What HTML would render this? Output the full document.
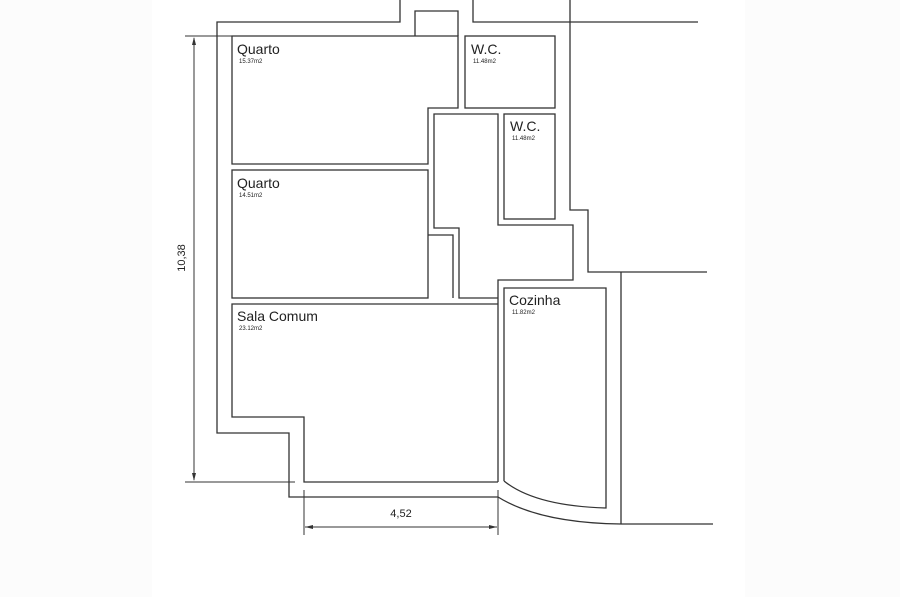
<!DOCTYPE html>
<html><head><meta charset="utf-8"><style>
html,body{margin:0;padding:0;background:#fff;width:900px;height:597px;overflow:hidden}
svg{display:block}
text{font-family:"Liberation Sans",Arial,sans-serif;fill:#222}
.l{font-size:14px}.s{font-size:6px}
</style></head><body>
<svg width="900" height="597" viewBox="0 0 900 597" xmlns="http://www.w3.org/2000/svg">
<rect x="0" y="0" width="152" height="597" fill="#fcfcfc"/>
<rect x="745" y="0" width="155" height="597" fill="#fcfcfc"/>
<g fill="none" stroke="#333" stroke-width="1.3">
<!-- outer left wall -->
<polyline points="400,0 400,22 217,22 217,433 289,433 289,497 498,497"/>
<!-- top small box -->
<polyline points="415,36 415,11 458,11 458,36"/>
<!-- top right wall -->
<polyline points="473,0 473,22 698,22"/>
<polyline points="570,0 570,210 588,210 588,272 707,272"/>
<line x1="621" y1="272" x2="621" y2="524"/>
<path d="M498,497 Q540,523 621,524 L713,524"/>
<!-- Quarto 1 -->
<polygon points="232,36 458,36 458,108 428,108 428,164 232,164"/>
<!-- WC1 -->
<rect x="465" y="36" width="90" height="72"/>
<!-- WC2 -->
<rect x="504" y="114" width="51" height="105"/>
<!-- corridor -->
<polyline points="498,298 459,298 459,228 434,228 434,114 498,114 498,225 573,225 573,280 498,280 498,482"/>
<!-- Quarto 2 -->
<rect x="232" y="170" width="196" height="128"/>
<polyline points="428,235 453,235 453,298"/>
<!-- Sala -->
<polyline points="498,304 232,304 232,417 304,417 304,482 498,482"/>
<!-- Cozinha -->
<path d="M504,481 L504,288 606,288 606,508 Q535,506 504,481"/>
</g>
<g stroke="#333" stroke-width="1" fill="none">
<line x1="185" y1="36" x2="232" y2="36"/>
<line x1="185" y1="482" x2="295" y2="482"/>
<line x1="194" y1="38" x2="194" y2="480"/>
<line x1="304" y1="490" x2="304" y2="535"/>
<line x1="498" y1="490" x2="498" y2="535"/>
<line x1="305" y1="527" x2="497" y2="527"/>
</g>
<g fill="#333">
<polygon points="194,37 192,45 196,45"/>
<polygon points="194,481 192,473 196,473"/>
<polygon points="305,527 313,525 313,529"/>
<polygon points="497,527 489,525 489,529"/>
</g>
<text class="l" x="237" y="54">Quarto</text>
<text class="s" x="239" y="63">15.37m2</text>
<text class="l" x="471" y="54">W.C.</text>
<text class="s" x="473" y="63">11.48m2</text>
<text class="l" x="510" y="131">W.C.</text>
<text class="s" x="512" y="140">11.48m2</text>
<text class="l" x="237" y="188">Quarto</text>
<text class="s" x="239" y="197">14.51m2</text>
<text class="l" x="237" y="321">Sala Comum</text>
<text class="s" x="239" y="330">23.12m2</text>
<text class="l" x="509" y="305">Cozinha</text>
<text class="s" x="512" y="314">11.82m2</text>
<text font-size="11" x="401" y="517" text-anchor="middle">4,52</text>
<text font-size="11" transform="translate(185,258) rotate(-90)" text-anchor="middle">10,38</text>
</svg>
</body></html>
